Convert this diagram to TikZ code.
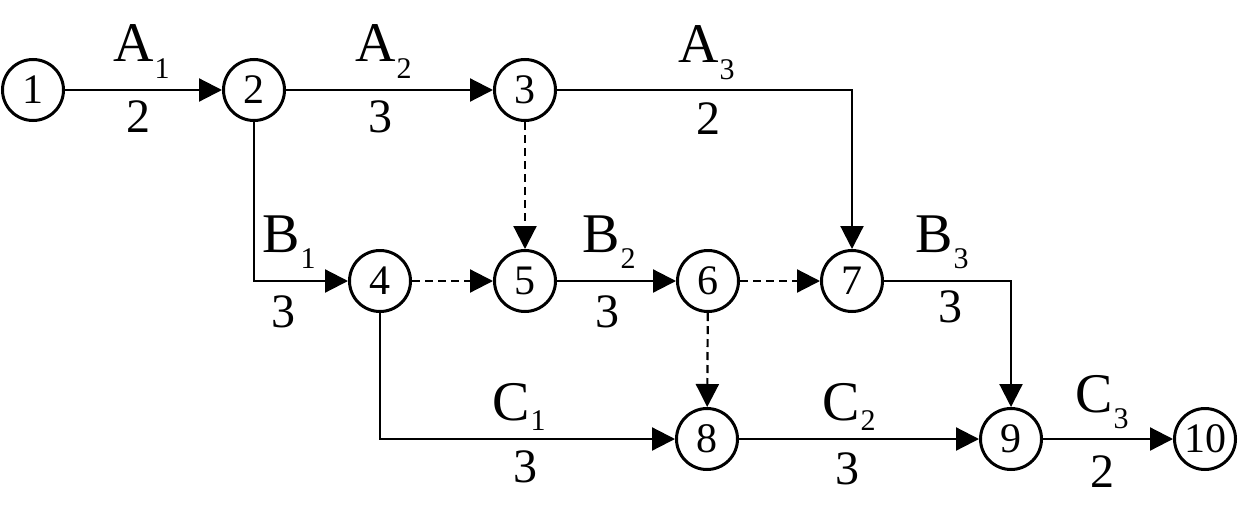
\documentclass[tikz,border=0pt]{standalone}
\usepackage{fontspec}
\setmainfont{Liberation Serif}
\usetikzlibrary{arrows.meta}

% activity label: letter with a lowered small index
\newcommand{\actlbl}[3]{#1\kern1pt\raisebox{-#3pt}{\fontsize{30}{30}\selectfont #2}}

\begin{document}
\begin{tikzpicture}[
  x=1pt, y=-1pt,
  ev/.style   = {draw, circle, line width=3pt, minimum size=61pt, inner sep=0pt,
                 font=\fontsize{42}{42}\selectfont},
  act/.style  = {line width=2.2pt, -{Triangle[length=23pt,width=23pt]}},
  dmy/.style  = {act, dash pattern=on 8pt off 5pt},
  lbl/.style  = {inner sep=0pt, anchor=base west, font=\fontsize{56}{56}\selectfont},
  dur/.style  = {inner sep=0pt, anchor=base, font=\fontsize{48}{48}\selectfont},
]
\useasboundingbox (0,0) rectangle (1238,506);

% ======================= events ========================================
\foreach \n/\x/\y in {1/33/90, 2/254/90, 3/525/90, 4/380/281, 5/525/281,
                      6/708/281, 7/852/281, 8/707/439, 9/1011/439, 10/1205/439}
  \node[ev] (n\n) at (\x,\y) {\n};

% ======================= activities ====================================
\draw[act] (n1) -- (n2);
\draw[act] (n2) -- (n3);
\draw[act] (n3) -| (n7);
\draw[act] (n2) |- (n4);
\draw[act] (n5) -- (n6);
\draw[act] (n7) -| (n9);
\draw[act] (n4) |- (n8);
\draw[act] (n8) -- (n9);
\draw[act] (n9) -- (n10);

% ======================= dummies =======================================
\draw[dmy] (n3) -- (n5);
\draw[dmy] (n4) -- (n5);
\draw[dmy] (n6) -- (n7);
\draw[dmy] (n6) -- (n8);

% ======================= labels ========================================
\foreach \l/\s/\dr/\lx/\ly/\d/\dx/\dy in {
    A/1/17/113/61/2/138/132,   A/2/17/355/61/3/380/132,
    A/3/17/678/62/2/708/134,   B/1/16/262/252/3/283/327,
    B/2/16/582/252/3/607/327,  B/3/16/915/252/3/950/322,
    C/1/10/492/420/3/525/482,  C/2/10/822/420/3/847/484,
    C/3/16/1075/412/2/1102/487} {
  \node[lbl] (l\l\s) at (\lx,\ly) {\actlbl{\l}{\s}{\dr}};
  \node[dur] (d\l\s) at (\dx,\dy) {\d};
}

\end{tikzpicture}
\end{document}
